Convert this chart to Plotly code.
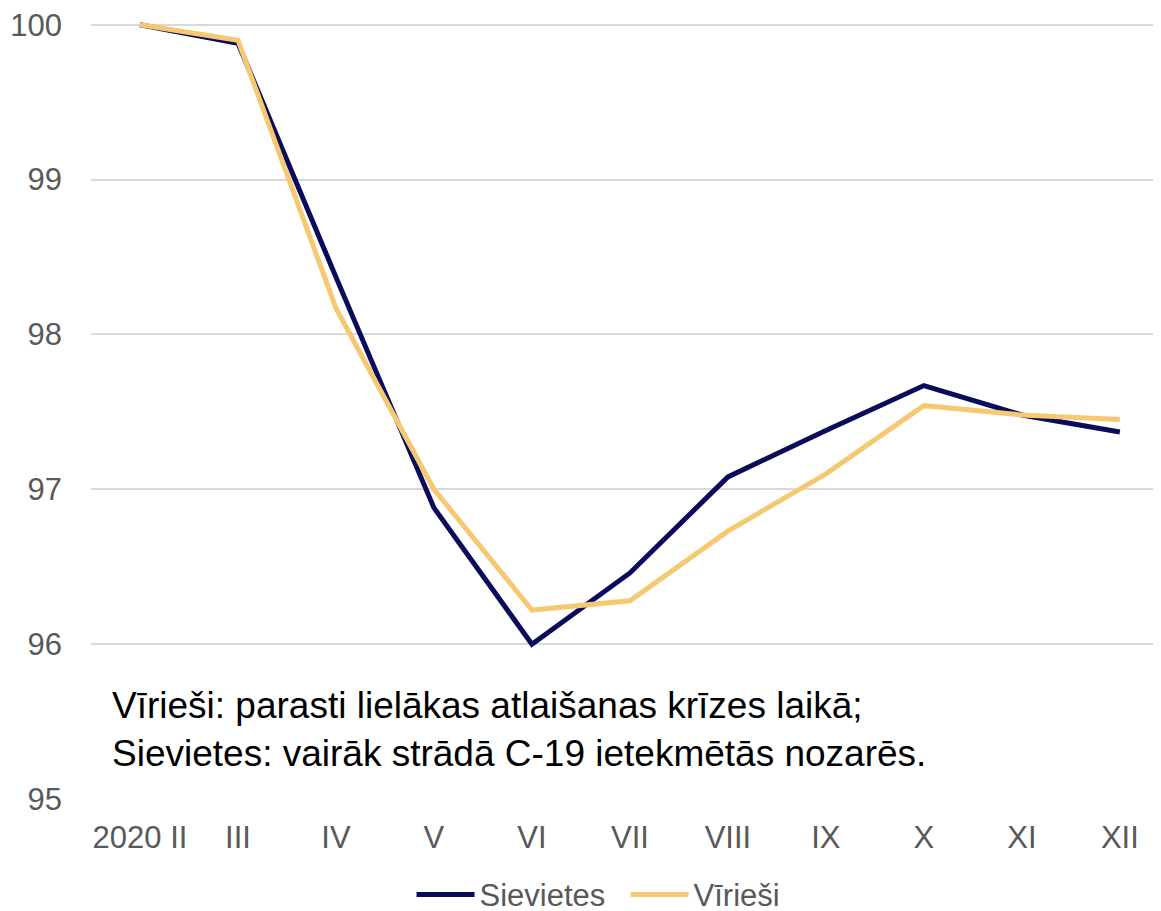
import plotly.graph_objects as go

categories = ["2020 II", "III", "IV", "V", "VI", "VII", "VIII", "IX", "X", "XI", "XII"]
sievietes = [100.0, 99.88, 98.37, 96.88, 96.0, 96.46, 97.08, 97.38, 97.67, 97.48, 97.37]
virieshi = [100.0, 99.90, 98.17, 97.0, 96.22, 96.28, 96.73, 97.10, 97.54, 97.48, 97.45]
y_ticks = [95, 96, 97, 98, 99, 100]
note_lines = ["Vīrieši: parasti lielākas atlaišanas krīzes laikā;",
              "Sievietes: vairāk strādā C-19 ietekmētās nozarēs."]

FONT = "Liberation Sans, Arial, sans-serif"
GRAY = "#595959"

fig = go.Figure()
fig.add_trace(go.Scatter(x=categories, y=sievietes, mode="lines", name="Sievietes",
                         line=dict(color="#0B0B5B", width=5)))
fig.add_trace(go.Scatter(x=categories, y=virieshi, mode="lines", name="Vīrieši",
                         line=dict(color="#F5C972", width=5)))

fig.add_annotation(text="<br>".join(note_lines), xref="paper", yref="y",
                   x=0.0175, y=95.45, xanchor="left", yanchor="middle", align="left",
                   showarrow=False, font=dict(family=FONT, size=37, color="#000000"))

fig.update_layout(
    width=1153, height=903,
    margin=dict(l=83, r=0, t=7, b=112),
    paper_bgcolor="white", plot_bgcolor="white",
    font=dict(family=FONT, size=31, color=GRAY),
    showlegend=True,
    legend=dict(orientation="h", xref="container", yref="container",
                x=0.350, y=0.018, xanchor="left", yanchor="middle",
                font=dict(family=FONT, size=31, color=GRAY), itemwidth=58,
                entrywidth=141, traceorder="normal"),
    xaxis=dict(type="category", range=[-0.5, 10.42], showgrid=False, zeroline=False,
               showline=False, ticks="", ticklabelstandoff=17,
               tickfont=dict(family=FONT, size=31, color=GRAY)),
    yaxis=dict(range=[95, 100.05], tickvals=y_ticks, showgrid=True, gridcolor="#D9D9D9",
               gridwidth=2, zeroline=False, showline=False, ticks="",
               ticklabelstandoff=28, ticklabeloverflow="allow",
               tickfont=dict(family=FONT, size=31, color=GRAY)),
)

fig.write_html("out.html")
